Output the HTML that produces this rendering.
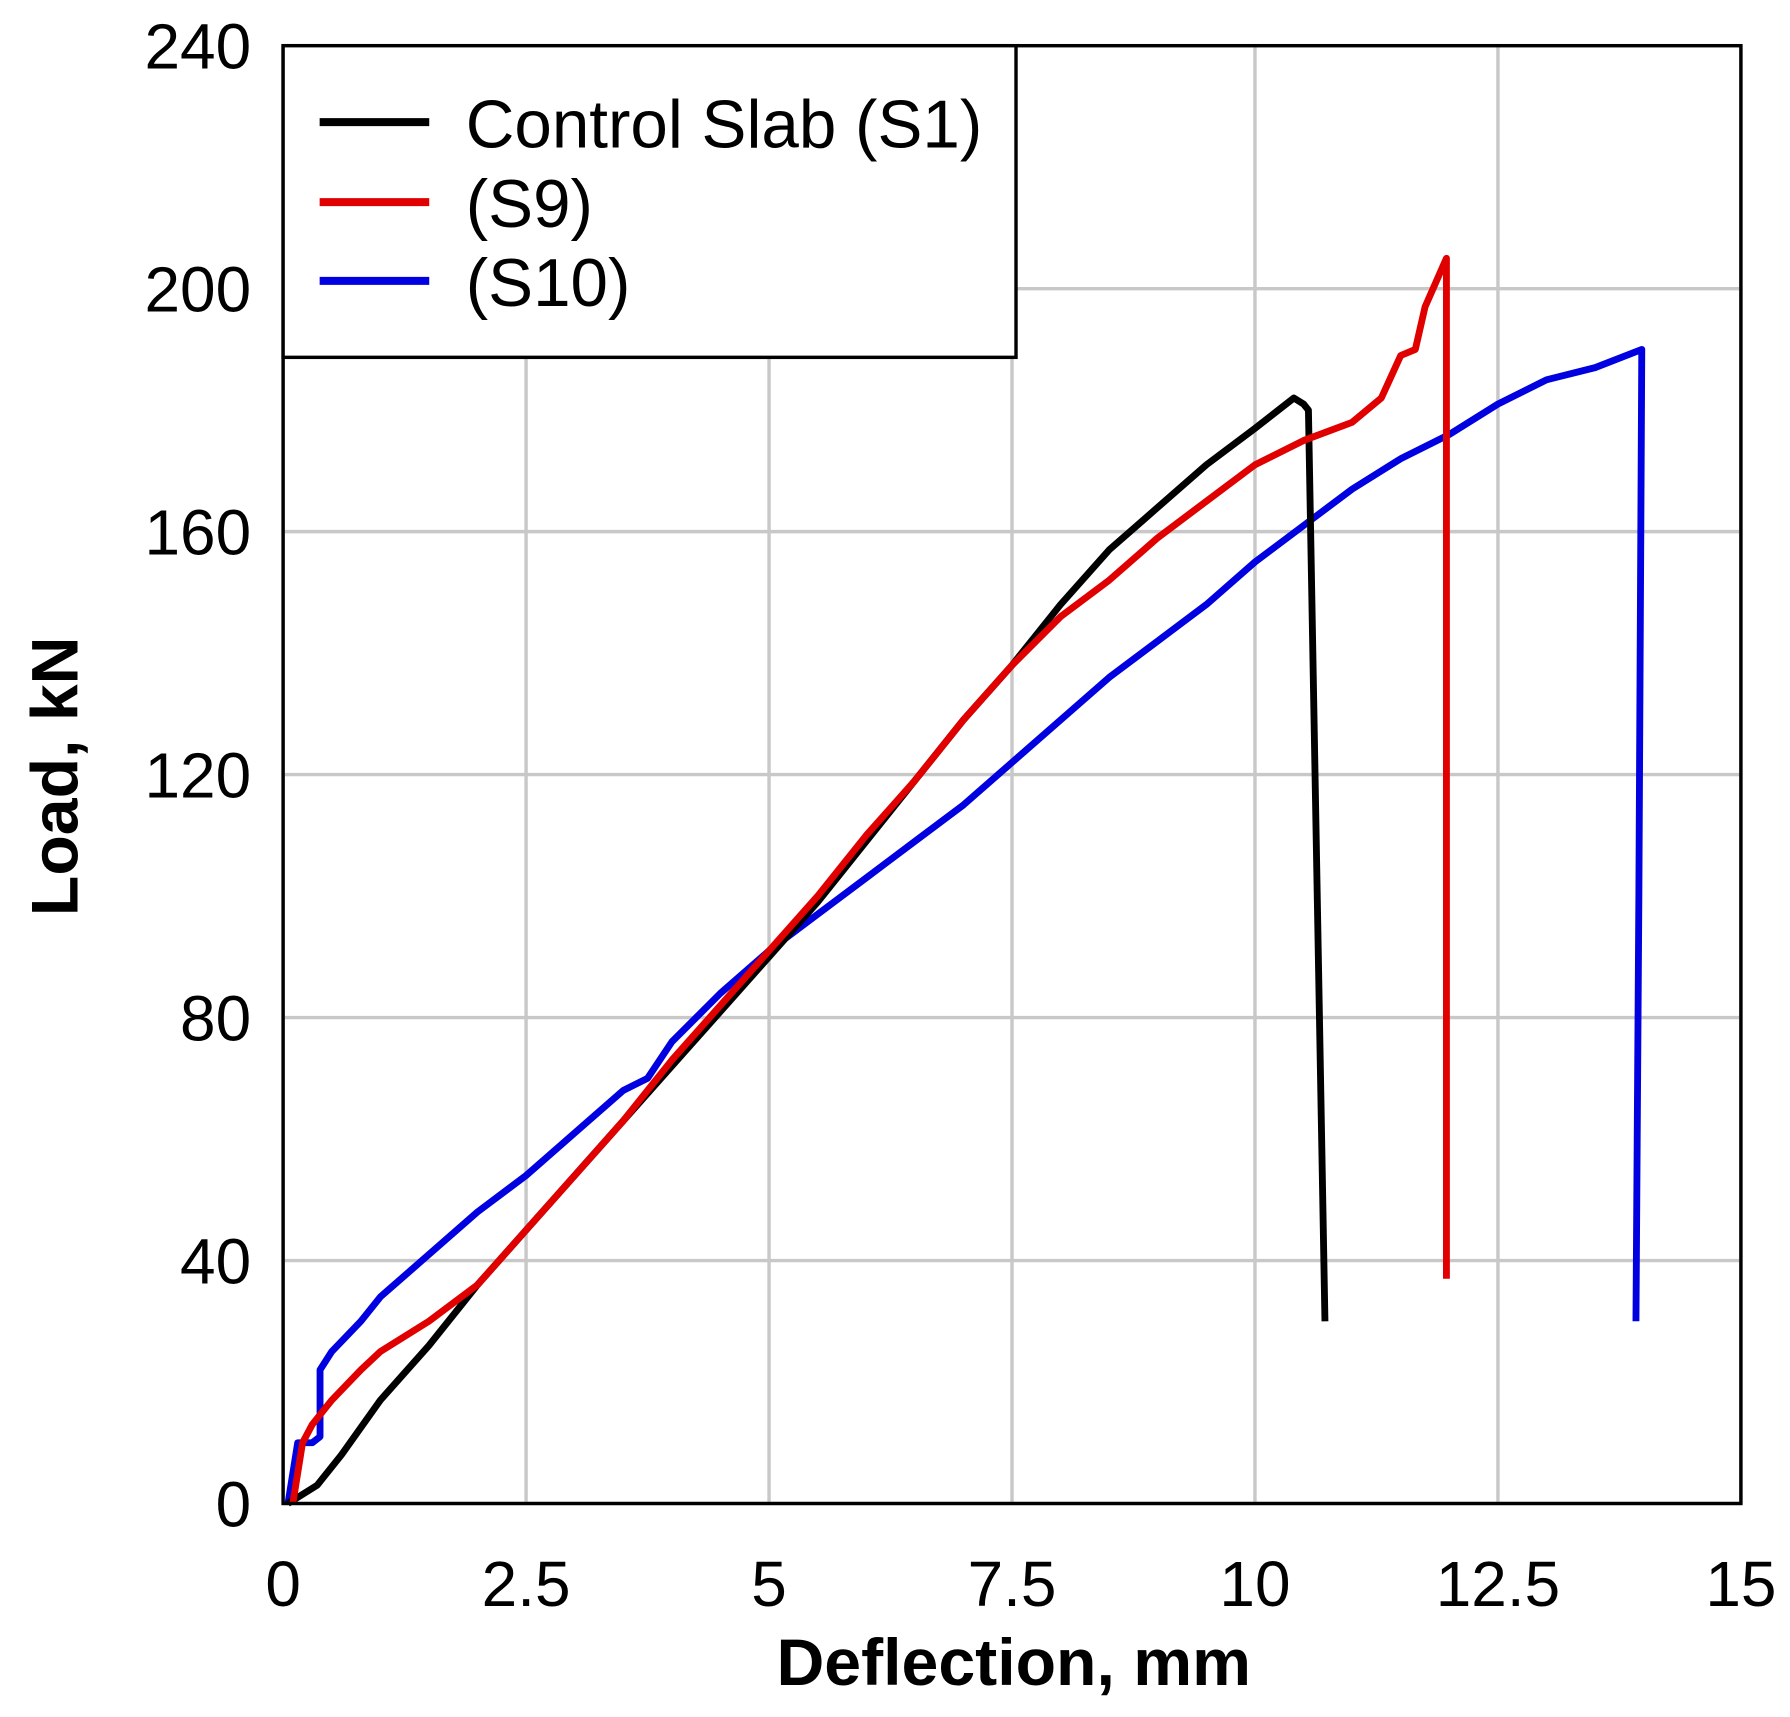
<!DOCTYPE html>
<html><head><meta charset="utf-8"><style>
html,body{margin:0;padding:0;background:#fff;}
svg{display:block;}
text{font-family:"Liberation Sans",Arial,sans-serif;fill:#000;}
</style></head><body>
<svg id="chart" width="1790" height="1717" viewBox="0 0 1568 1504" xmlns="http://www.w3.org/2000/svg">
<g id="grid"></g>
<g id="series"></g>
<rect x="248" y="40" width="1277" height="1277" fill="none" stroke="#000" stroke-width="3"/>
<g id="ticks"></g>
<text x="888" y="1476" font-size="58" font-weight="bold" text-anchor="middle">Deflection, mm</text>
<text transform="translate(68,680) rotate(-90)" font-size="58" font-weight="bold" text-anchor="middle">Load, kN</text>
<g>
<rect x="248" y="40" width="642" height="273" fill="#fff" stroke="#000" stroke-width="3"/>
<line x1="280" y1="107" x2="376" y2="107" stroke="#000" stroke-width="7"/>
<text x="408" y="129" font-size="59">Control Slab (S1)</text>
<line x1="280" y1="177" x2="376" y2="177" stroke="#e00000" stroke-width="7"/>
<text x="408" y="199" font-size="59">(S9)</text>
<line x1="280" y1="246" x2="376" y2="246" stroke="#0000e0" stroke-width="7"/>
<text x="408" y="268" font-size="59">(S10)</text>
</g>
</svg>
<script>
const xTicks = [0, 2.5, 5, 7.5, 10, 12.5, 15];
const xTickLabels = ["0", "2.5", "5", "7.5", "10", "12.5", "15"];
const yTicks = [0, 40, 80, 120, 160, 200, 240];
const yTickLabels = ["0", "40", "80", "120", "160", "200", "240"];
const s1X = [0.05,0.35,0.6,1,1.5,2,2.5,3,3.5,4,4.5,5,5.5,6,6.5,7,7.5,8,8.5,9,9.5,10,10.4,10.5,10.55,10.72];
const s1Y = [0,3,8,17,26,36,45,54,63,72,81,90,99,109,119,129,138,148,157,164,171,177,182,181,180,30];
const s9X = [0.1,0.2,0.3,0.5,0.8,1,1.5,2,2.5,3,3.5,4,4.5,5,5.5,6,6.5,7,7.5,8,8.5,9,9.5,10,10.5,11,11.3,11.5,11.65,11.75,11.97,11.97];
const s9Y = [0,10,13,17,22,25,30,36,45,54,63,73,82,91,100,110,119,129,138,146,152,159,165,171,175,178,182,189,190,197,205,37];
const s10X = [0.05,0.15,0.3,0.38,0.38,0.5,0.8,1,1.5,2,2.5,3,3.5,3.75,4,4.25,4.5,5,5.5,6,6.5,7,7.5,8,8.5,9,9.5,10,10.5,11,11.5,12,12.5,13,13.5,13.98,13.95,13.92];
const s10Y = [0,10,10,11,22,25,30,34,41,48,54,61,68,70,76,80,84,91,97,103,109,115,122,129,136,142,148,155,161,167,172,176,181,185,187,190,100,30];

const NS = "http://www.w3.org/2000/svg";
const xs = v => 248 + v * (1277 / 15);
const ys = v => 1317 - v * (1277 / 240);
const grid = document.getElementById('grid');
const ticks = document.getElementById('ticks');
xTicks.forEach((t, i) => {
  const l = document.createElementNS(NS, 'line');
  
  
  l.setAttribute('x1', xs(t)); l.setAttribute('x2', xs(t));
  l.setAttribute('y1', 40); l.setAttribute('y2', 1317);
  l.setAttribute('stroke', '#c8c8c8'); l.setAttribute('stroke-width', 3);
  grid.appendChild(l);
  const tx = document.createElementNS(NS, 'text');
  
  
  tx.setAttribute('x', xs(t)); tx.setAttribute('y', 1407);
  tx.setAttribute('font-size', 56); tx.setAttribute('text-anchor', 'middle');
  tx.textContent = xTickLabels[i];
  ticks.appendChild(tx);
});
yTicks.forEach((t, i) => {
  const l = document.createElementNS(NS, 'line');
  
  
  l.setAttribute('x1', 248); l.setAttribute('x2', 1525);
  l.setAttribute('y1', ys(t)); l.setAttribute('y2', ys(t));
  l.setAttribute('stroke', '#c8c8c8'); l.setAttribute('stroke-width', 3);
  grid.appendChild(l);
  const tx = document.createElementNS(NS, 'text');
  
  
  tx.setAttribute('x', 220); tx.setAttribute('y', ys(t) + 20);
  tx.setAttribute('font-size', 56); tx.setAttribute('text-anchor', 'end');
  tx.textContent = yTickLabels[i];
  ticks.appendChild(tx);
});
const series = document.getElementById('series');
function drawLine(X, Y, color, name) {
  const p = document.createElementNS(NS, 'polyline');
  
  
  p.setAttribute('points', X.map((x, i) => xs(x) + ',' + ys(Y[i])).join(' '));
  p.setAttribute('fill', 'none'); p.setAttribute('stroke', color);
  p.setAttribute('stroke-width', 6); p.setAttribute('stroke-linejoin', 'round');
  series.appendChild(p);
}
drawLine(s10X, s10Y, '#0000e0', 'line-s10');
drawLine(s1X, s1Y, '#000000', 'line-s1');
drawLine(s9X, s9Y, '#e00000', 'line-s9');
</script>
</body></html>
